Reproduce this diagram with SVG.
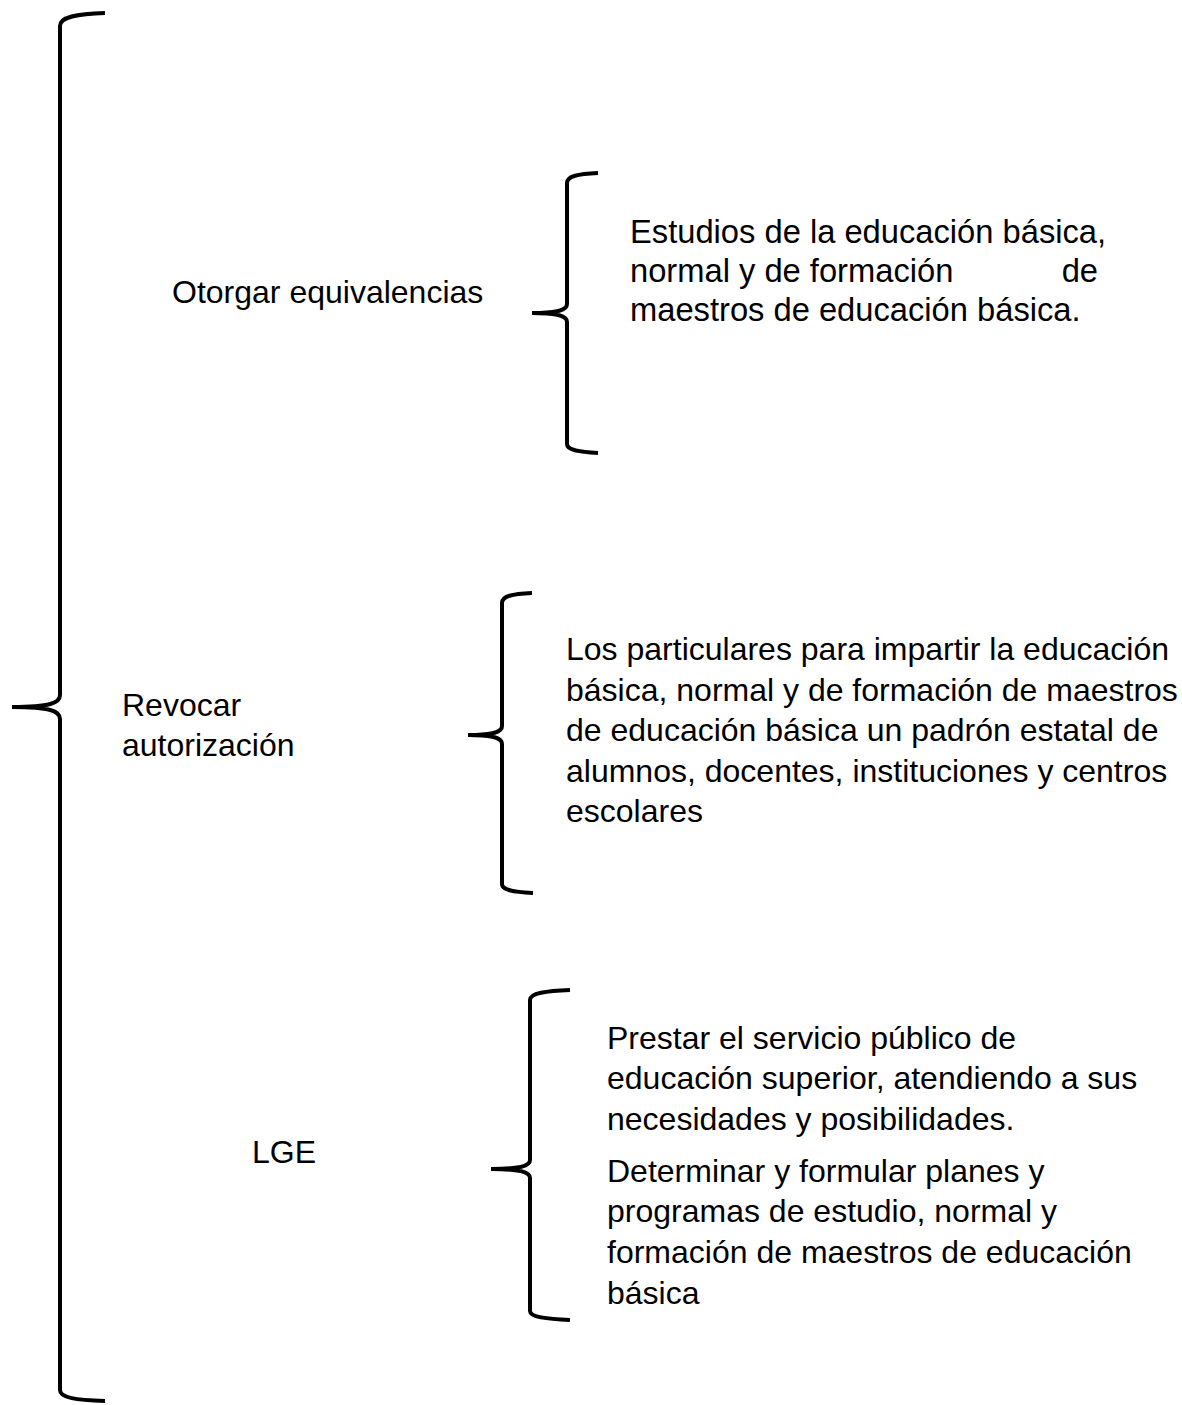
<svg xmlns="http://www.w3.org/2000/svg" width="1182" height="1405" viewBox="0 0 1182 1405">
<style>
.br{fill:none;stroke:#000;stroke-width:4;stroke-linecap:butt;stroke-linejoin:round}
.t{font-family:"Liberation Sans",Arial,sans-serif;font-size:32px;fill:#000}
.t1{font-family:"Liberation Sans",Arial,sans-serif;font-size:32.7px;fill:#000}
</style>
<rect width="1182" height="1405" fill="#fff"/>
<g id="connectors">
<path id="brace-main" class="br" d="M105,13 C76,14 60,17 60,26 L60,695 C60,703 50,707 12,707 M12,707 C50,707 60,711 60,719 L60,1390 C60,1398 76,1400 105,1401"/>
<path id="brace-1" class="br" d="M598,173 C578,174 567,176 567,183 L567,304 C567,310 558,313 532,313 M532,313 C558,313 567,316 567,322 L567,444 C567,450 578,452 598,453"/>
<path id="brace-2" class="br" d="M532,593 C512,594 502,596 502,603 L502,726 C502,732 494,735 468,735 M468,735 C494,735 502,738 502,744 L502,884 C502,890 512,892 533,893"/>
<path id="brace-3" class="br" d="M570,990 C546,991 530,993 530,1000 L530,1160 C530,1166 520,1169 491,1169 M491,1169 C520,1169 530,1172 530,1178 L530,1311 C530,1317 546,1319 570,1320"/>
</g>
<g id="node-otorgar"><text class="t" x="172" y="303">Otorgar equivalencias</text></g>
<g id="node-otorgar-detail">
<text class="t1" x="630" y="243">Estudios de la educación básica,</text>
<text class="t1" x="630" y="282">normal y de formación</text>
<text class="t1" x="1098" y="282" text-anchor="end">de</text>
<text class="t1" x="630" y="321">maestros de educación básica.</text>
</g>
<g id="node-revocar">
<text class="t" x="122" y="716">Revocar</text>
<text class="t" x="122" y="756">autorización</text>
</g>
<g id="node-revocar-detail">
<text class="t" x="566" y="660">Los particulares para impartir la educación</text>
<text class="t" x="566" y="701">básica, normal y de formación de maestros</text>
<text class="t" x="566" y="741">de educación básica un padrón estatal de</text>
<text class="t" x="566" y="782">alumnos, docentes, instituciones y centros</text>
<text class="t" x="566" y="822">escolares</text>
</g>
<g id="node-lge"><text class="t" x="252" y="1163">LGE</text></g>
<g id="node-lge-detail">
<text class="t" x="607" y="1049">Prestar el servicio público de</text>
<text class="t" x="607" y="1089">educación superior, atendiendo a sus</text>
<text class="t" x="607" y="1130">necesidades y posibilidades.</text>
<text class="t" x="607" y="1182">Determinar y formular planes y</text>
<text class="t" x="607" y="1222">programas de estudio, normal y</text>
<text class="t" x="607" y="1263">formación de maestros de educación</text>
<text class="t" x="607" y="1304">básica</text>
</g>
</svg>
